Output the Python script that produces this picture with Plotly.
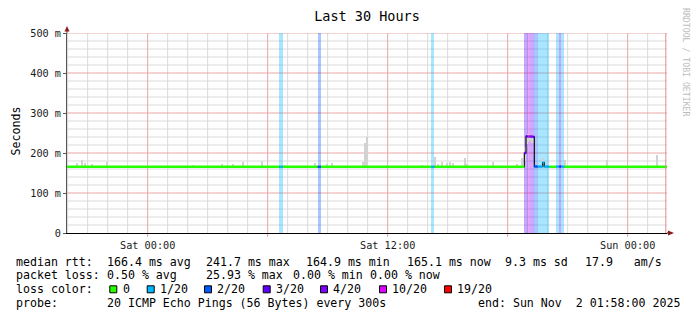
import plotly.graph_objects as go
from datetime import datetime, timedelta

# ---------------- data ----------------
START = "2025-10-31 19:58"
END = "2025-11-02 01:58"
STEP_MIN = 5

baseline_ms = 165.5          # flat median level outside events

# 5-minute steps that differ from the flat baseline (median ms, lost pings of 20)
ev_time = ["2025-11-01 06:35", "2025-11-01 06:40",
           "2025-11-01 08:30", "2025-11-01 08:35",
           "2025-11-01 14:10", "2025-11-01 14:15",
           "2025-11-01 18:50", "2025-11-01 18:55", "2025-11-01 19:00", "2025-11-01 19:05",
           "2025-11-01 19:10", "2025-11-01 19:15", "2025-11-01 19:20", "2025-11-01 19:25",
           "2025-11-01 19:30", "2025-11-01 19:35", "2025-11-01 19:40", "2025-11-01 19:45",
           "2025-11-01 19:50", "2025-11-01 19:55", "2025-11-01 20:00",
           "2025-11-01 20:25", "2025-11-01 20:30", "2025-11-01 20:35", "2025-11-01 20:40",
           "2025-11-01 20:45"]
ev_median = [165.5, 165.5,
             165.5, 165.5,
             165.5, 165.5,
             200.0, 241.7, 241.5, 241.0,
             241.0, 240.5, 166.0, 166.0,
             166.0, 166.0, 166.0, 176.0,
             166.0, 166.0, 166.0,
             166.0, 166.0, 166.0, 166.0,
             166.0]
ev_loss = [1, 1,
           2, 2,
           1, 1,
           3, 3, 10, 4,
           4, 3, 2, 2,
           1, 1, 1, 1,
           1, 1, 1,
           1, 1, 3, 1,
           1]

# smoke (lowest / highest ping of a step, ms)
smoke_time = ["2025-10-31 20:25", "2025-10-31 20:40", "2025-10-31 20:50", "2025-10-31 21:10",
              "2025-10-31 21:55", "2025-10-31 23:10", "2025-11-01 00:00", "2025-11-01 02:15",
              "2025-11-01 02:40", "2025-11-01 03:40", "2025-11-01 03:55", "2025-11-01 04:15",
              "2025-11-01 04:45", "2025-11-01 05:40", "2025-11-01 06:10", "2025-11-01 06:50",
              "2025-11-01 08:20", "2025-11-01 08:55", "2025-11-01 09:10", "2025-11-01 10:15",
              "2025-11-01 10:45", "2025-11-01 10:50", "2025-11-01 10:55", "2025-11-01 11:15",
              "2025-11-01 11:40", "2025-11-01 11:55", "2025-11-01 12:45", "2025-11-01 13:40",
              "2025-11-01 14:20", "2025-11-01 14:30", "2025-11-01 14:40", "2025-11-01 14:55",
              "2025-11-01 15:05", "2025-11-01 15:15", "2025-11-01 15:50", "2025-11-01 15:55",
              "2025-11-01 16:40", "2025-11-01 17:15", "2025-11-01 18:25", "2025-11-01 18:40",
              "2025-11-01 18:50", "2025-11-01 18:55", "2025-11-01 19:00", "2025-11-01 19:05",
              "2025-11-01 19:10", "2025-11-01 19:15", "2025-11-01 19:45", "2025-11-01 20:35",
              "2025-11-01 20:50", "2025-11-01 22:55", "2025-11-02 00:55", "2025-11-02 01:25"]
smoke_low = [164, 164, 164, 164,
             164, 164, 164, 164,
             164, 164, 164, 164,
             164, 164, 164, 164,
             164, 164, 164, 164,
             164, 164, 164, 164,
             164, 164, 164, 164,
             164, 164, 164, 164,
             164, 164, 164, 164,
             164, 164, 164, 164,
             180, 222, 228, 230,
             226, 224, 164, 164,
             164, 164, 164, 164]
smoke_top = [176, 183, 176, 172,
             177, 168, 167, 170,
             168, 173, 170, 172,
             177, 180, 168, 169,
             175, 173, 176, 168,
             177, 225, 241, 168,
             168, 170, 168, 170,
             190, 173, 178, 176,
             178, 175, 187, 172,
             168, 177, 172, 187,
             215, 246, 247, 246,
             245, 244, 187, 168,
             182, 182, 168, 195]

loss_levels = [0, 1, 2, 3, 4, 10, 19]
loss_labels = ["0", "1/20", "2/20", "3/20", "4/20", "10/20", "19/20"]
loss_colors = ["#26ff00", "#00b8ff", "#0059ff", "#5e00ff", "#7e00ff", "#dd00ff", "#ff0000"]

y_ticks = [0, 100, 200, 300, 400, 500]
y_ticktext = ["0", "100 m", "200 m", "300 m", "400 m", "500 m"]
x_ticks = ["2025-11-01 00:00", "2025-11-01 06:00", "2025-11-01 12:00",
           "2025-11-01 18:00", "2025-11-02 00:00"]
x_ticktext = ["Sat 00:00", "", "Sat 12:00", "", "Sun 00:00"]

stats_rtt = ["median rtt:", "166.4 ms avg", "241.7 ms max", "164.9 ms min",
             "165.1 ms now", "9.3 ms sd", "17.9   am/s"]
stats_loss = ["packet loss:", "0.50 % avg", "25.93 % max", "0.00 % min", "0.00 % now"]
probe_line = ["probe:", "20 ICMP Echo Pings (56 Bytes) every 300s",
              "end: Sun Nov  2 01:58:00 2025"]

# ---------------- layout constants ----------------
W, H = 697, 321
L, T, PW, PH = 67, 33, 600, 200
MONO = "DejaVu Sans Mono"
MAJOR = "#e8a6a6"
MINOR = "#dadada"
Y_MAX = 500
Y_MINOR_STEP = 20
Y_MAJOR_STEP = 100


def px(x):
    return (x - L) / PW


def py(y):
    return (T + PH - y) / PH


def tp(s):
    return datetime.strptime(s, "%Y-%m-%d %H:%M")


def loss_index(n):
    idx = 0
    for i, lv in enumerate(loss_levels):
        if n >= lv:
            idx = i
    return idx


def rgba(hexc, a):
    h = hexc.lstrip("#")
    return "rgba(%d,%d,%d,%.2f)" % (int(h[0:2], 16), int(h[2:4], 16), int(h[4:6], 16), a)


step = timedelta(minutes=STEP_MIN)
step_ms = STEP_MIN * 60 * 1000

shapes = []


def vline(x, color, y0=0.0):
    shapes.append(dict(type="line", layer="below", xref="x", yref="paper", x0=x, x1=x,
                       y0=y0, y1=1, line=dict(color=color, width=1)))


def hline(v, color):
    shapes.append(dict(type="line", layer="below", xref="paper", yref="y", x0=0, x1=1,
                       y0=v, y1=v, line=dict(color=color, width=1)))


# minor grid (hourly / 20 ms) then major grid (6 h / 100 ms)
h = tp(START).replace(minute=0) + timedelta(hours=1)
while h < tp(END):
    if h.hour % 6 != 0:
        vline(h, MINOR)
    h += timedelta(hours=1)
for v in range(Y_MINOR_STEP, Y_MAX, Y_MINOR_STEP):
    if v % Y_MAJOR_STEP != 0:
        hline(v, MINOR)
for xt in x_ticks:
    vline(xt, MAJOR, y0=py(236))
for v in y_ticks[1:]:
    hline(v, MAJOR)

fig = go.Figure()

# loss bands
band_x = [t for t, l in zip(ev_time, ev_loss) if l > 0]
band_c = [rgba(loss_colors[loss_index(l)], 0.34) for l in ev_loss if l > 0]
fig.add_trace(go.Bar(x=band_x, y=[Y_MAX] * len(band_x), base=0, width=step_ms, offset=0,
                     marker=dict(color=band_c, line=dict(width=0)), hoverinfo="skip",
                     showlegend=False))

# smoke
fig.add_trace(go.Bar(x=smoke_time, y=[hi - lo for hi, lo in zip(smoke_top, smoke_low)],
                     base=smoke_low, width=step_ms, offset=0,
                     marker=dict(color="#d2d2d2", line=dict(width=0)),
                     hoverinfo="skip", showlegend=False))

# median segments
segs = []
cur = tp(START)
for et, em, el in sorted(zip(map(tp, ev_time), ev_median, ev_loss)):
    if et > cur:
        segs.append((cur, et, baseline_ms, 0))
    segs.append((et, et + step, em, el))
    cur = et + step
if cur < tp(END):
    segs.append((cur, tp(END), baseline_ms, 0))

bx, by = [], []
for t0, t1, v, _ in segs:
    bx += [t0, t1]
    by += [v, v]
fig.add_trace(go.Scatter(x=bx, y=by, mode="lines", line=dict(color="#111111", width=1.2),
                         hoverinfo="skip", showlegend=False))

for ci, col in enumerate(loss_colors):
    xs, ys = [], []
    for t0, t1, v, l in segs:
        if loss_index(l) == ci:
            xs += [t0, t1, None]
            ys += [v, v, None]
    if xs:
        fig.add_trace(go.Scatter(x=xs, y=ys, mode="lines", line=dict(color=col, width=2.5),
                                 hoverinfo="skip", showlegend=False))

# ---------------- decorations ----------------
# right end red rule
shapes.append(dict(type="line", xref="paper", yref="paper", x0=px(665.8), x1=px(665.8),
                   y0=0, y1=1, line=dict(color="#e08a8a", width=1)))
# axis extensions and arrows
shapes.append(dict(type="line", xref="paper", yref="paper", x0=1, x1=px(669), y0=0, y1=0,
                   line=dict(color="black", width=1)))
shapes.append(dict(type="path", xref="paper", yref="paper",
                   path="M %f %f L %f %f L %f %f Z" % (px(668), py(230.5), px(674), py(233),
                                                       px(668), py(235.5)),
                   fillcolor="#8b1c1c", line=dict(width=0)))
shapes.append(dict(type="line", xref="paper", yref="paper", x0=0, x1=0, y0=1, y1=py(30),
                   line=dict(color="#555555", width=1)))
shapes.append(dict(type="path", xref="paper", yref="paper",
                   path="M %f %f L %f %f L %f %f Z" % (px(64.5), py(31.5), px(67), py(26),
                                                       px(69.5), py(31.5)),
                   fillcolor="#8b1c1c", line=dict(width=0)))

annotations = []


def txt(s, x, y, size=11.6, color="#000000", **kw):
    annotations.append(dict(text=s.replace(" ", "\u00a0"), x=px(x), y=py(y), xref="paper",
                            yref="paper", xanchor=kw.get("xanchor", "left"),
                            yanchor="middle", showarrow=False, borderpad=0, borderwidth=0,
                            textangle=kw.get("angle", 0),
                            font=dict(family=MONO, size=size, color=color)))


rtt_x = [16.7, 107.3, 206.7, 306.5, 407.3, 506.0, 586.0]
for s, x in zip(stats_rtt, rtt_x):
    txt(s, x - 0.7, 261.7)
loss_x = [16.7, 107.3, 206.7, 294.0, 371.0]
for s, x in zip(stats_loss, loss_x):
    txt(s, x - 0.7, 275.0)
txt("loss color:", 16.0, 289.3)
sq_x = [109.3, 146.7, 204.0, 262.7, 320.0, 379.0, 444.0]
for s, col, x in zip(loss_labels, loss_colors, sq_x):
    shapes.append(dict(type="rect", xref="paper", yref="paper", x0=px(x + 0.5), x1=px(x + 7.5),
                       y0=py(292.8), y1=py(285.8), fillcolor=col,
                       line=dict(color="black", width=1)))
    txt(s, x + 13.3, 289.3)
probe_x = [16.7, 107.3, 478.3]
for s, x in zip(probe_line, probe_x):
    txt(s, x - 0.7, 302.7)

# y title and watermark
txt("Seconds", 15.5, 131, size=11.6, xanchor="center", angle=-90)
txt("RRDTOOL / TOBI OETIKER", 686, 62, size=8.2, color="#bdbdbd", xanchor="center", angle=90)

fig.update_layout(
    width=W, height=H, margin=dict(l=L, r=W - L - PW, t=T, b=H - T - PH, pad=0),
    paper_bgcolor="white", plot_bgcolor="white",
    barmode="overlay", bargap=0, showlegend=False,
    title=dict(text="Last 30 Hours", x=0.5, xref="paper", xanchor="center",
               y=1 - 16 / H, yref="container", yanchor="middle",
               font=dict(family=MONO, size=13.5, color="#000000")),
    xaxis=dict(type="date", range=[START, END], tickmode="array", tickvals=x_ticks,
               ticktext=x_ticktext, showgrid=False,
               showline=True, linecolor="black", linewidth=1,
               ticks="outside", ticklen=3, tickcolor=MAJOR,
               tickfont=dict(family=MONO, size=10.2, color="#1a1a1a"),
               zeroline=False, fixedrange=True),
    yaxis=dict(range=[0, Y_MAX], tickmode="array", tickvals=y_ticks, ticktext=y_ticktext,
               showgrid=False,
               showline=True, linecolor="#555555", linewidth=1,
               ticks="outside", ticklen=3, tickcolor="#555555",
               tickfont=dict(family=MONO, size=10.2, color="#1a1a1a"),
               zeroline=False, fixedrange=True),
    shapes=shapes, annotations=annotations,
)

fig.write_html("out.html", config={"displayModeBar": False})
